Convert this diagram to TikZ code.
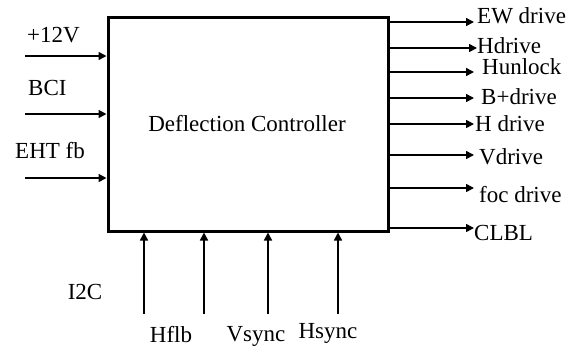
\documentclass[tikz,border=0pt]{standalone}
\usepackage{fontspec}
\setmainfont{Liberation Serif}
\usetikzlibrary{arrows.meta}
\begin{document}
\begin{tikzpicture}[x=1pt,y=-1pt,
  lbl/.style={inner sep=0pt,anchor=base west,font=\fontsize{23}{26}\selectfont},
  lblc/.style={inner sep=0pt,anchor=base,font=\fontsize{23}{26}\selectfont},
  sig/.style={line width=1.6pt,-{Triangle[length=8pt,width=8pt]}}]
\useasboundingbox (0,0) rectangle (578,346);
\node (box) [draw,line width=3pt,minimum width=280pt,minimum height=214pt,inner sep=0pt] at (248,124) {};
\node (title) [inner sep=0pt,font=\fontsize{23}{26}\selectfont] at (247,124) {Deflection Controller};
% left inputs
\node (l1) [lbl] at (27,42) {+12V};
\node (l2) [lbl] at (28,95) {BCI};
\node (l3) [lbl] at (15,158) {EHT fb};
\coordinate (i1) at (25,56);
\coordinate (i2) at (25,114);
\coordinate (i3) at (25,178);
\draw[sig] (i1) -- (box.west |- i1);
\draw[sig] (i2) -- (box.west |- i2);
\draw[sig] (i3) -- (box.west |- i3);
% right outputs
\coordinate (o1) at (474,22);
\coordinate (o2) at (477,48);
\coordinate (o3) at (474,72);
\coordinate (o4) at (474,98);
\coordinate (o5) at (474,124);
\coordinate (o6) at (474,155);
\coordinate (o7) at (474,188);
\coordinate (o8) at (474,228);
\foreach \o in {o1,o2,o3,o4,o5,o6,o7,o8} {\draw[sig] (box.east |- \o) -- (\o);}
\node (r1) [lbl] at (477,23) {EW drive};
\node (r2) [lbl] at (477,53) {Hdrive};
\node (r3) [lbl] at (482,74) {Hunlock};
\node (r4) [lbl] at (481,104) {B+drive};
\node (r5) [lbl] at (475,131) {H drive};
\node (r6) [lbl] at (479,164) {Vdrive};
\node (r7) [lbl] at (479,202) {foc drive};
\node (r8) [lbl] at (474,240) {CLBL};
% bottom inputs
\coordinate (b1) at (144,314);
\coordinate (b2) at (204,314);
\coordinate (b3) at (268,314);
\coordinate (b4) at (338,314);
\foreach \b in {b1,b2,b3,b4} {\draw[sig] (\b) -- (\b |- box.south);}
\node (c0) [lblc] at (85,299) {I2C};
\node (c1) [lblc] at (171,342) {Hflb};
\node (c2) [lblc] at (256,341) {Vsync};
\node (c3) [lblc] at (328,338) {Hsync};
\end{tikzpicture}
\end{document}
